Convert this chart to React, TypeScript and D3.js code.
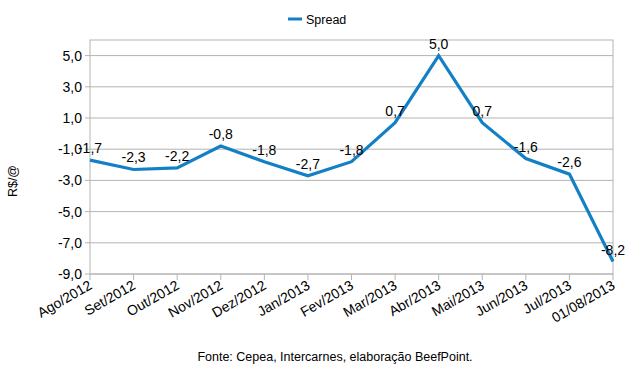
import React from "react";
import * as d3 from "d3";

const categories = ["Ago/2012", "Set/2012", "Out/2012", "Nov/2012", "Dez/2012", "Jan/2013", "Fev/2013", "Mar/2013", "Abr/2013", "Mai/2013", "Jun/2013", "Jul/2013", "01/08/2013"];
const spread = [-1.7, -2.3, -2.2, -0.8, -1.8, -2.7, -1.8, 0.7, 5.0, 0.7, -1.6, -2.6, -8.2];
const yTicks = [-9, -7, -5, -3, -1, 1, 3, 5];
const seriesName = "Spread";
const yTitle = "R$/@";
const footnote = "Fonte: Cepea, Intercarnes, elaboração BeefPoint.";

const W = 643, H = 375;
const left = 90, right = 613, top = 40, bottom = 274;
const font = "'Liberation Sans', Arial, sans-serif";
const color = "#1380c6";
const grid = "#b3b3b3";

const fmt = (v: number) => v.toFixed(1).replace(".", ",");

export default function App() {
  const x = d3.scalePoint<string>().domain(categories).range([left, right]);
  const y = d3.scaleLinear().domain([-9, 6]).range([bottom, top]);
  const line = d3.line<number>().x((_, i) => x(categories[i])!).y((d) => y(d));

  return (
    <svg width={W} height={H} style={{ position: "absolute", left: 0, top: 0, background: "#fff" }} fontFamily={font}>
      <rect x={0} y={0} width={W} height={H} fill="#fff" />
      {/* legend */}
      <line x1={288} x2={302} y1={19} y2={19} stroke={color} strokeWidth={3} />
      <text x={306} y={23.5} fontSize={12.5} fill="#000">{seriesName}</text>
      {/* grid */}
      {yTicks.map((t) => (
        <g key={t}>
          <line x1={left} x2={right} y1={y(t)} y2={y(t)} stroke={grid} strokeWidth={1} />
          <line x1={left - 5} x2={left} y1={y(t)} y2={y(t)} stroke={grid} strokeWidth={1} />
          <text x={left - 8} y={y(t) + 5} fontSize={14} textAnchor="end" fill="#000">{fmt(t)}</text>
        </g>
      ))}
      <rect x={left} y={top} width={right - left} height={bottom - top} fill="none" stroke={grid} strokeWidth={1} />
      {/* x ticks */}
      {categories.map((c) => (
        <g key={c}>
          <line x1={x(c)!} x2={x(c)!} y1={bottom} y2={bottom + 6} stroke={grid} strokeWidth={1} />
          <text transform={`translate(${x(c)! + 3},${bottom + 14}) rotate(-30)`} fontSize={14} textAnchor="end" fill="#000">{c}</text>
        </g>
      ))}
      {/* line */}
      <path d={line(spread) || ""} fill="none" stroke={color} strokeWidth={3.2} strokeLinejoin="miter" />
      {/* data labels */}
      {spread.map((v, i) => (
        <text key={i} x={x(categories[i])!} y={y(v) - 7} fontSize={14} textAnchor="middle" fill="#000">{fmt(v)}</text>
      ))}
      {/* y title */}
      <text transform={`translate(17,181) rotate(-90)`} fontSize={12.5} textAnchor="middle" fill="#000">{yTitle}</text>
      {/* footnote */}
      <text x={335} y={361} fontSize={12.5} textAnchor="middle" fill="#000">{footnote}</text>
    </svg>
  );
}
